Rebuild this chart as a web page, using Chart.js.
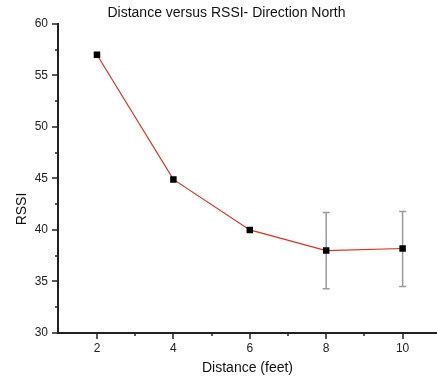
<!DOCTYPE html>
<html>
<head>
<meta charset="utf-8">
<script src="https://cdn.jsdelivr.net/npm/chart.js@4/dist/chart.umd.min.js"></script>
<style>
  html, body { margin: 0; padding: 0; background: #fff; }
  #chart { display: block; }
</style>
</head>
<body>
<canvas id="chart" width="437" height="381"></canvas>
<script>
const distances = [2, 4, 6, 8, 10];
const rssi = [57.0, 44.9, 40.0, 38.0, 38.2];
const errLow = [null, null, null, 34.3, 34.5];
const errHigh = [null, null, null, 41.7, 41.8];
const xTicks = [2, 4, 6, 8, 10];
const xMinor = [3, 5, 7, 9];
const yMinor = [32.5, 37.5, 42.5, 47.5, 52.5, 57.5];

const font = "'Liberation Sans', Arial, sans-serif";

// error bars drawn under the points
const errorBars = {
  id: 'errorBars',
  beforeDatasetsDraw(chart) {
    const { ctx, scales: { x, y } } = chart;
    ctx.save();
    ctx.strokeStyle = '#9a9a9a';
    ctx.lineWidth = 1.5;
    distances.forEach((d, i) => {
      if (errLow[i] == null) return;
      const px = x.getPixelForValue(d);
      const top = y.getPixelForValue(errHigh[i]);
      const bot = y.getPixelForValue(errLow[i]);
      ctx.beginPath();
      ctx.moveTo(px, top); ctx.lineTo(px, bot);
      ctx.moveTo(px - 3.5, top); ctx.lineTo(px + 3.5, top);
      ctx.moveTo(px - 3.5, bot); ctx.lineTo(px + 3.5, bot);
      ctx.stroke();
    });
    ctx.restore();
  }
};

// outward major/minor ticks and rotated y title
const axisExtras = {
  id: 'axisExtras',
  afterDraw(chart) {
    const { ctx, chartArea, scales: { x, y } } = chart;
    ctx.save();
    ctx.strokeStyle = '#222';
    ctx.lineWidth = 1.5;
    ctx.beginPath();
    xTicks.forEach(v => {
      const px = Math.round(x.getPixelForValue(v));
      ctx.moveTo(px, chartArea.bottom); ctx.lineTo(px, chartArea.bottom + 6);
    });
    xMinor.forEach(v => {
      const px = Math.round(x.getPixelForValue(v));
      ctx.moveTo(px, chartArea.bottom); ctx.lineTo(px, chartArea.bottom + 3);
    });
    y.ticks.forEach(t => {
      const py = Math.round(y.getPixelForValue(t.value));
      ctx.moveTo(chartArea.left, py); ctx.lineTo(chartArea.left - 6, py);
    });
    yMinor.forEach(v => {
      const py = Math.round(y.getPixelForValue(v));
      ctx.moveTo(chartArea.left, py); ctx.lineTo(chartArea.left - 3, py);
    });
    ctx.stroke();

    ctx.fillStyle = '#111';
    ctx.font = '14px ' + font;
    ctx.textAlign = 'center';
    ctx.textBaseline = 'middle';
    ctx.translate(22, 209);
    ctx.rotate(-Math.PI / 2);
    ctx.fillText('RSSI', 0, 0);
    ctx.restore();
  }
};

new Chart(document.getElementById('chart'), {
  type: 'scatter',
  data: {
    datasets: [{
      data: distances.map((d, i) => ({ x: d, y: rssi[i] })),
      showLine: true,
      borderColor: '#e2311d',
      borderWidth: 1.2,
      pointStyle: 'rect',
      pointRadius: 4.6,
      pointBackgroundColor: '#000',
      pointBorderColor: '#000',
      pointBorderWidth: 0,
      pointHoverRadius: 4.6
    }]
  },
  options: {
    responsive: false,
    animation: false,
    events: [],
    layout: { autoPadding: false, padding: { left: 16, right: 0, top: 0, bottom: 0 } },
    plugins: {
      legend: { display: false },
      tooltip: { enabled: false },
      title: {
        display: true,
        text: 'Distance versus RSSI- Direction North',
        color: '#111',
        font: { family: font, size: 14, weight: 'normal' },
        padding: { top: 5, bottom: 2 }
      }
    },
    scales: {
      x: {
        type: 'linear',
        min: 0.98,
        max: 10.9,
        afterBuildTicks: s => { s.ticks = xTicks.map(v => ({ value: v })); },
        afterFit: s => { s.height = 48; },
        grid: { display: false, drawTicks: false, tickLength: 0 },
        border: { display: true, color: '#222', width: 2 },
        ticks: { color: '#222', padding: 8, font: { family: font, size: 12 } },
        title: {
          display: true,
          text: 'Distance (feet)',
          color: '#111',
          font: { family: font, size: 14 },
          padding: { top: 4, bottom: 4 }
        }
      },
      y: {
        min: 30,
        max: 60,
        ticks: { stepSize: 5, color: '#222', padding: 10, font: { family: font, size: 12 } },
        afterFit: s => { s.width = 42; },
        grid: { display: false, drawTicks: false, tickLength: 0 },
        border: { display: true, color: '#222', width: 2 }
      }
    }
  },
  plugins: [errorBars, axisExtras]
});
</script>
</body>
</html>
